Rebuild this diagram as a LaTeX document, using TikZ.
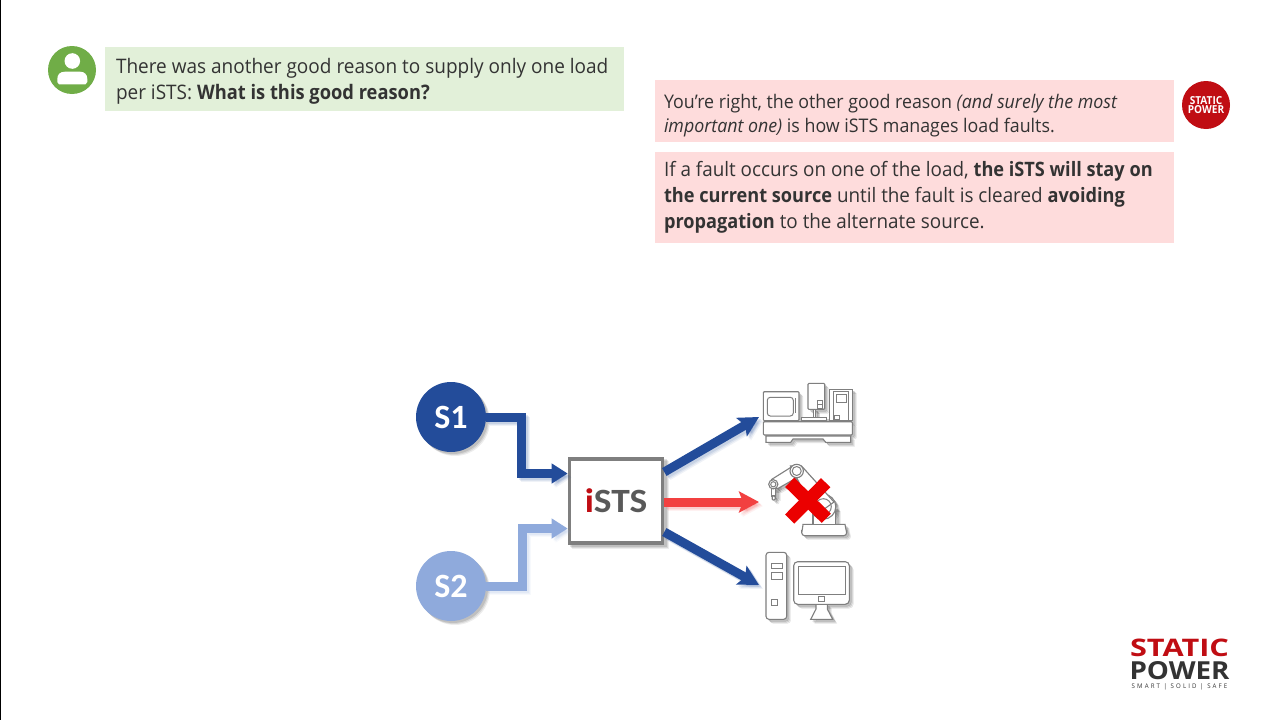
\documentclass[tikz,border=0pt]{standalone}
\usepackage{fontspec}
\usetikzlibrary{arrows.meta}
\setmainfont{Open Sans}[FakeStretch=0.95,BoldFeatures={FakeStretch=0.915}]
\newfontfamily\calib{Carlito}
\newfontfamily\calibw{Carlito}[FakeStretch=1.1]
\definecolor{ink}{HTML}{333333}
\definecolor{greenbox}{HTML}{E2F0D9}
\definecolor{pinkbox}{HTML}{FEDCDC}
\definecolor{userg}{HTML}{70AD47}
\definecolor{brandred}{HTML}{C00D13}
\definecolor{dblue}{HTML}{234C9A}
\definecolor{lblue}{HTML}{8FAADC}
\definecolor{redflow}{HTML}{F24040}
\definecolor{icong}{HTML}{7F7F7F}
\newcommand{\softshadow}[1]{%
  \foreach \d/\o in {4/.07,3/.09,2/.11}{%
    \begin{scope}[transform canvas={shift={(\d pt,-\d pt)}},black,opacity=\o,
      ic/.style={draw=black,fill=black},flow/.style={line width=9pt,draw=black,line join=miter},
      fl/.style={fill=black,draw=none}]
    #1
    \end{scope}}%
  \begin{scope}[ic/.style={draw=icong,fill=white,line width=1.1pt},
      flow/.style={line width=9pt,line join=miter},fl/.style={draw=none}]
  #1
  \end{scope}}
\tikzset{
  x=1pt,y=-1pt,
  bubble/.style={rectangle,inner sep=0pt,outer sep=0pt,anchor=north west},
  msg/.style={inner sep=0pt,outer sep=0pt,anchor=north west,align=left,text=ink},
  src/.style={circle,minimum size=70pt,inner sep=0pt,outer sep=0pt,text=white,font=\calib\bfseries\fontsize{34}{34}\selectfont},
  elbow/.style={-{Triangle[length=16pt,width=19pt]}},
  straight/.style={-{Stealth[length=20pt,width=21pt,inset=4pt]}},
}
\begin{document}
\begin{tikzpicture}
\useasboundingbox (0,0) rectangle (1280,720);
\fill[white] (0,0) rectangle (1280,720);
\fill[black] (0,0) rectangle (1.3,720);

% bubbles
\node[bubble,fill=greenbox,minimum width=519pt,minimum height=64pt] (greenb) at (105,47) {};
\node[bubble,fill=pinkbox,minimum width=519pt,minimum height=62pt] (pink1) at (655,80) {};
\node[bubble,fill=pinkbox,minimum width=519pt,minimum height=91pt] (pink2) at (655,152) {};

\node[msg,font=\fontsize{20}{26}\selectfont] (t1) at (116,58) {There was another good reason to supply only one load\\per iSTS: \textbf{What is this good reason?}};
\node[msg,font=\fontsize{18.75}{24}\selectfont] (t2) at (664,94.5) {You’re right, the other good reason \textit{(and surely the most}\\\textit{important one)} is how iSTS manages load faults.};
\node[msg,font=\fontsize{19.85}{26}\selectfont] (t3) at (664,161) {If a fault occurs on one of the load, \textbf{the iSTS will stay on}\\\textbf{the current source} until the fault is cleared \textbf{avoiding}\\\textbf{propagation} to the alternate source.};

% user avatar
\fill[userg] (72,70) circle (24);
\fill[white] (72.3,61) circle (7.8);
\fill[white] (57.3,82) -- (57.3,79) .. controls (57.3,74.5) and (60,71.7) .. (65,71.7) -- (80,71.7) .. controls (84.5,71.7) and (87.3,74.5) .. (87.3,79) -- (87.3,82) -- (85.5,84.3) -- (59,84.3) -- cycle;

% round logo
\node[circle,fill=brandred,minimum size=48pt,inner sep=0pt,text=white,align=center,font=\bfseries\fontsize{11}{9.8}\selectfont] (roundlogo) at (1206,105) {STATIC\\POWER};

% corner logo
\node[inner sep=0pt,text=brandred,font=\bfseries] (logo1) at (1179.5,647.7) {\resizebox{99pt}{17.5pt}{STATIC}};
\node[inner sep=0pt,text=ink,font=\bfseries] (logo2) at (1179.5,671) {\resizebox{100pt}{18pt}{POWER}};
\node[inner sep=0pt,text=ink,font=\fontsize{6.4}{6}\selectfont,text height=4.6pt,text depth=0pt] (logo3) at (1179.5,685.9) {\addfontfeatures{LetterSpace=33}SMART | SOLID | SAFE};

% sources and switch (shadows first)
\foreach \d/\o in {4/.07,3/.09,2/.11}{
  \fill[black,opacity=\o,transform canvas={shift={(\d pt,-\d pt)}}] (451,417) circle (35);
  \fill[black,opacity=\o,transform canvas={shift={(\d pt,-\d pt)}}] (451,586) circle (35);
  \fill[black,opacity=\o,transform canvas={shift={(\d pt,-\d pt)}}] (568,457) rectangle (664.5,545);
}
\node[src,fill=dblue] (S1) at (451,417) {S1};
\node[src,fill=lblue] (S2) at (451,586) {S2};
\node[rectangle,draw=icong,fill=white,line width=3.6pt,minimum width=93pt,minimum height=84.5pt,inner sep=0pt,outer sep=1.8pt,font=\calibw\bfseries\fontsize{34}{34}\selectfont,text=black!65] (iSTS) at (616,501) {\raisebox{-2pt}{\textcolor{brandred}{i}STS}};

% named connector ends
\coordinate (in1) at (iSTS.west |- 0,473.5);
\coordinate (in2) at (iSTS.west |- 0,528.5);
\coordinate (bend1) at (521.5,417);
\coordinate (bend2) at (522.5,586);
\coordinate (out1) at (iSTS.east |- 0,472);
\coordinate (out2) at (iSTS.east |- 0,502);
\coordinate (out3) at (iSTS.east |- 0,532);
\coordinate (tip1) at (759,417);
\coordinate (tip2) at (759,502);
\coordinate (tip3) at (759,585);

\softshadow{
  \draw[flow,elbow,dblue] (S1.east) -- (bend1) -- (bend1 |- in1) -- (in1);
  \draw[flow,elbow,lblue] (S2.east) -- (bend2) -- (bend2 |- in2) -- (in2);
  \draw[flow,straight,dblue] (out1) -- (tip1);
  \draw[flow,straight,redflow] (out2) -- (tip2);
  \draw[flow,straight,dblue] (out3) -- (tip3);
}

% machine icon
\softshadow{
  \draw[ic,rounded corners=1pt] (763.3,391.7) rectangle (799,420.7);
  \draw[ic,rounded corners=1pt] (808,383.3) rectangle (824.7,409.3);
  \draw[ic] (801.7,417.3) rectangle (826.7,420.7);
  \draw[ic] (813.5,409.3) rectangle (815.5,417.3);
  \draw[ic] (829.3,389.3) rectangle (852.3,420.7);
  \draw[ic,rounded corners=1pt] (763.3,421.7) rectangle (852.3,435);
  \draw[ic] (766,436) -- (766,442.3) -- (790.7,442.3) -- (793,439) -- (823,439) -- (825.7,442.3) -- (850.7,442.3) -- (850.7,436) -- cycle;
}
\begin{scope}[draw=icong,line width=1pt]
  \draw[rounded corners=3pt] (767.3,397.3) rectangle (793.3,416);
  \draw (795.7,398) -- (795.7,413);
  \draw (817.7,400) rectangle (822.3,404);
  \draw (817.7,404) rectangle (822.3,408);
  \draw (833,391.5) rectangle (848.7,420.7);
  \draw (836.7,394) rectangle (846.7,402.3);
  \draw (834.5,415.7) rectangle (839.3,419.3);
\end{scope}

% robot icon
\softshadow{
  \draw[ic,rounded corners=3pt] (801.7,535.7) -- (801.7,530) to[out=-90,in=180] (806,524.3) -- (842,524.3) to[out=0,in=-90] (846.7,530) -- (846.7,535.7) -- cycle;
  \draw[ic] (813,524.3) -- (813,506.7) -- (835.8,506.7) -- (835.8,524.3) -- cycle;
  \draw[ic] (823.3,506.7) circle (12.5);
  \draw[ic] (790.5,466) -- (801.5,466) -- (834,502) -- (816,515) -- cycle;
  \draw[ic] (771.5,479.5) -- (793,466) -- (800,476) -- (777,489) -- cycle;
  \draw[ic] (771.7,488) rectangle (775.7,496);
  \draw[ic,rounded corners=1pt] (772.2,496) rectangle (775.2,500);
  \draw[ic] (773.3,484.3) circle (4.6);
  \draw[ic] (796.7,471) circle (6.7);
}
\draw[icong,line width=1pt] (823.3,506.7) circle (8);
\draw[icong,line width=1pt] (796.7,471) circle (4.5);
\draw[icong,line width=1pt] (773.3,484.3) circle (2.6);
\draw[line width=13pt,color=red!92!black] (789.7,482.3) -- (826.3,518.3);
\draw[line width=13pt,color=red!92!black] (825.7,482.7) -- (789.7,519);

% computer icon
\softshadow{
  \draw[ic,rounded corners=3pt] (766,552.3) rectangle (786.7,619.3);
  \draw[ic] (816,604.3) -- (816,609) -- (810.7,619.3) -- (832.7,619.3) -- (827.3,609) -- (827.3,604.3) -- cycle;
  \draw[ic,rounded corners=4pt] (793.7,561.7) rectangle (849.3,604.3);
}
\begin{scope}[draw=icong,line width=1pt]
  \draw (771,563.3) rectangle (782,568.7);
  \draw (771,572.7) rectangle (782,579);
  \draw (771,599.3) rectangle (777,605);
  \draw (798.3,566.7) rectangle (845.7,594.3);
  \draw (818.7,596) rectangle (824.7,601.7);
\end{scope}
\end{tikzpicture}
\end{document}
